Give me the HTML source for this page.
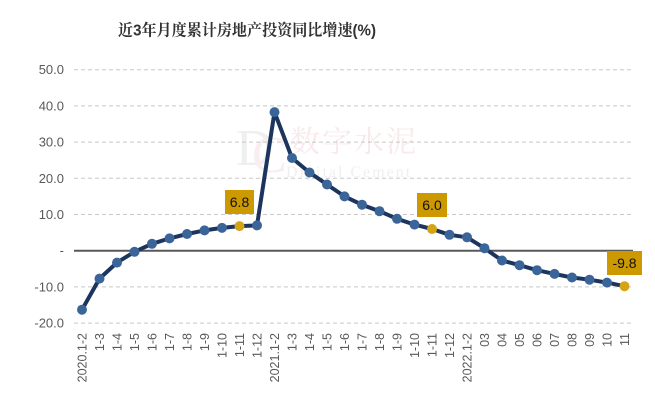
<!DOCTYPE html>
<html><head><meta charset="utf-8"><style>
html,body{margin:0;padding:0;background:#fff;}
svg{display:block;}
</style></head><body>
<svg width="655" height="413" viewBox="0 0 655 413" xmlns="http://www.w3.org/2000/svg">
<rect width="655" height="413" fill="#fff"/>
<!-- title -->
<text x="118" y="35.5" font-family="'Liberation Sans','Noto Serif CJK SC',serif" font-size="16" font-weight="bold" fill="#333" textLength="258" lengthAdjust="spacingAndGlyphs">近3年月度累计房地产投资同比增速(%)</text>

<!-- watermark -->
<g opacity="0.45">
<text x="236" y="165" font-family="'Liberation Serif',serif" font-size="52" fill="#ddd">D</text>
<text x="252" y="172" font-family="'Liberation Serif',serif" font-size="52" fill="#f2d8dc">C</text>
<text x="290" y="152" font-family="'Liberation Serif','Noto Serif CJK SC',serif" font-size="30" fill="#f0cfd4" letter-spacing="2">数字水泥</text>
<text x="286" y="177" font-family="'Liberation Serif',serif" font-size="16" fill="#ddd" letter-spacing="2">Digital Cement</text>
</g>

<!-- gridlines -->
<g stroke="#c8c8c8" stroke-width="1" stroke-dasharray="4,3">
<line x1="74" y1="69.7" x2="633" y2="69.7"/>
<line x1="74" y1="105.9" x2="633" y2="105.9"/>
<line x1="74" y1="142.1" x2="633" y2="142.1"/>
<line x1="74" y1="178.3" x2="633" y2="178.3"/>
<line x1="74" y1="214.5" x2="633" y2="214.5"/>
<line x1="74" y1="286.9" x2="633" y2="286.9"/>
<line x1="74" y1="323.1" x2="633" y2="323.1"/>
</g>
<line x1="74" y1="250.7" x2="633" y2="250.7" stroke="#595959" stroke-width="2"/>

<!-- y labels -->
<g font-family="'Liberation Sans',sans-serif" font-size="13" fill="#595959" text-anchor="end">
<text x="64" y="74.2">50.0</text>
<text x="64" y="110.4">40.0</text>
<text x="64" y="146.6">30.0</text>
<text x="64" y="182.8">20.0</text>
<text x="64" y="219">10.0</text>
<text x="64" y="255.2">-</text>
<text x="64" y="291.4">-10.0</text>
<text x="64" y="327.6">-20.0</text>
</g>

<!-- series -->
<polyline fill="none" stroke="#1C355E" stroke-width="4" stroke-linejoin="round" points="
82,309.7 99.5,278.6 117,262.6 134.5,251.8 152,243.8 169.5,238.4 187,234.0 204.5,230.4 222,227.9 239.5,226.1 257,225.4
274.5,112.1 292,158.0 309.5,172.5 327,184.5 344.5,196.4 362,204.7 379.5,211.2 397,218.8 414.5,224.6 432,229.0 449.5,234.8
467,237.3 484.5,248.2 502,260.5 519.5,265.2 537,270.2 554.5,273.9 572,277.5 589.5,279.7 607,282.6 624.5,286.2"/>
<g fill="#3B6599">
<circle cx="82" cy="309.7" r="5"/><circle cx="99.5" cy="278.6" r="5"/><circle cx="117" cy="262.6" r="5"/><circle cx="134.5" cy="251.8" r="5"/><circle cx="152" cy="243.8" r="5"/><circle cx="169.5" cy="238.4" r="5"/><circle cx="187" cy="234.0" r="5"/><circle cx="204.5" cy="230.4" r="5"/><circle cx="222" cy="227.9" r="5"/><circle cx="257" cy="225.4" r="5"/>
<circle cx="274.5" cy="112.1" r="5"/><circle cx="292" cy="158.0" r="5"/><circle cx="309.5" cy="172.5" r="5"/><circle cx="327" cy="184.5" r="5"/><circle cx="344.5" cy="196.4" r="5"/><circle cx="362" cy="204.7" r="5"/><circle cx="379.5" cy="211.2" r="5"/><circle cx="397" cy="218.8" r="5"/><circle cx="414.5" cy="224.6" r="5"/><circle cx="449.5" cy="234.8" r="5"/>
<circle cx="467" cy="237.3" r="5"/><circle cx="484.5" cy="248.2" r="5"/><circle cx="502" cy="260.5" r="5"/><circle cx="519.5" cy="265.2" r="5"/><circle cx="537" cy="270.2" r="5"/><circle cx="554.5" cy="273.9" r="5"/><circle cx="572" cy="277.5" r="5"/><circle cx="589.5" cy="279.7" r="5"/><circle cx="607" cy="282.6" r="5"/>
</g>
<g fill="#D4A414">
<circle cx="239.5" cy="226.1" r="5"/><circle cx="432" cy="229.0" r="5"/><circle cx="624.5" cy="286.2" r="5"/>
</g>

<!-- data labels -->
<g font-family="'Liberation Sans',sans-serif" font-size="14" fill="#111" text-anchor="middle">
<rect x="225" y="190" width="29" height="24" fill="#CC9900"/>
<text x="239.5" y="207">6.8</text>
<rect x="417" y="193" width="30" height="24" fill="#CC9900"/>
<text x="432" y="210">6.0</text>
<rect x="607" y="251" width="35" height="24" fill="#CC9900"/>
<text x="624.5" y="268">-9.8</text>
</g>

<!-- x labels -->
<g font-family="'Liberation Sans',sans-serif" font-size="12.5" fill="#595959" text-anchor="end">
<text transform="translate(86.5,333) rotate(-90)">2020.1-2</text>
<text transform="translate(104,333) rotate(-90)">1-3</text>
<text transform="translate(121.5,333) rotate(-90)">1-4</text>
<text transform="translate(139,333) rotate(-90)">1-5</text>
<text transform="translate(156.5,333) rotate(-90)">1-6</text>
<text transform="translate(174,333) rotate(-90)">1-7</text>
<text transform="translate(191.5,333) rotate(-90)">1-8</text>
<text transform="translate(209,333) rotate(-90)">1-9</text>
<text transform="translate(226.5,333) rotate(-90)">1-10</text>
<text transform="translate(244,333) rotate(-90)">1-11</text>
<text transform="translate(261.5,333) rotate(-90)">1-12</text>
<text transform="translate(279,333) rotate(-90)">2021.1-2</text>
<text transform="translate(296.5,333) rotate(-90)">1-3</text>
<text transform="translate(314,333) rotate(-90)">1-4</text>
<text transform="translate(331.5,333) rotate(-90)">1-5</text>
<text transform="translate(349,333) rotate(-90)">1-6</text>
<text transform="translate(366.5,333) rotate(-90)">1-7</text>
<text transform="translate(384,333) rotate(-90)">1-8</text>
<text transform="translate(401.5,333) rotate(-90)">1-9</text>
<text transform="translate(419,333) rotate(-90)">1-10</text>
<text transform="translate(436.5,333) rotate(-90)">1-11</text>
<text transform="translate(454,333) rotate(-90)">1-12</text>
<text transform="translate(471.5,333) rotate(-90)">2022.1-2</text>
<text transform="translate(489,333) rotate(-90)">03</text>
<text transform="translate(506.5,333) rotate(-90)">04</text>
<text transform="translate(524,333) rotate(-90)">05</text>
<text transform="translate(541.5,333) rotate(-90)">06</text>
<text transform="translate(559,333) rotate(-90)">07</text>
<text transform="translate(576.5,333) rotate(-90)">08</text>
<text transform="translate(594,333) rotate(-90)">09</text>
<text transform="translate(611.5,333) rotate(-90)">10</text>
<text transform="translate(629,333) rotate(-90)">11</text>
</g>
</svg>
</body></html>
